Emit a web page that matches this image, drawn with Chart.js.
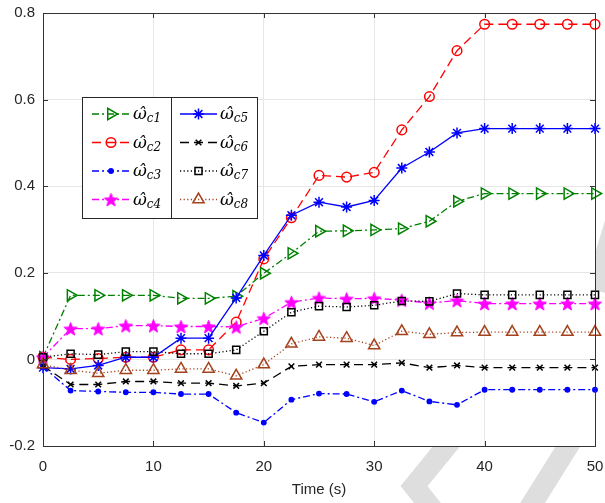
<!DOCTYPE html>
<html>
<head>
<meta charset="utf-8">
<script src="https://cdn.jsdelivr.net/npm/chart.js@4/dist/chart.umd.min.js"></script>
<style>
  html, body { margin: 0; padding: 0; background: #fff; }
  #wrap { position: relative; width: 605px; height: 503px; }
</style>
</head>
<body>
<div id="wrap"><canvas id="grafico" width="605" height="503"></canvas></div>
<script>
const tempos = [0, 2.5, 5, 7.5, 10, 12.5, 15, 17.5, 20, 22.5, 25, 27.5, 30, 32.5, 35, 37.5, 40, 42.5, 45, 47.5, 50];

const wc1 = [0.005, 0.148, 0.148, 0.148, 0.148, 0.141, 0.141, 0.146, 0.199, 0.245, 0.296, 0.297, 0.299, 0.302, 0.319, 0.365, 0.383, 0.383, 0.383, 0.383, 0.383];
const wc2 = [0.005, 0.0, 0.002, 0.005, 0.005, 0.022, 0.022, 0.086, 0.232, 0.327, 0.425, 0.421, 0.432, 0.53, 0.607, 0.713, 0.774, 0.774, 0.774, 0.774, 0.774];
const wc3 = [-0.017, -0.072, -0.074, -0.076, -0.076, -0.08, -0.08, -0.123, -0.146, -0.093, -0.079, -0.08, -0.098, -0.072, -0.097, -0.105, -0.07, -0.07, -0.07, -0.07, -0.07];
const wc4 = [0.005, 0.071, 0.071, 0.078, 0.078, 0.076, 0.076, 0.075, 0.095, 0.132, 0.142, 0.14, 0.141, 0.137, 0.13, 0.136, 0.129, 0.129, 0.129, 0.129, 0.129];
const wc5 = [-0.019, -0.022, -0.014, 0.005, 0.005, 0.049, 0.049, 0.142, 0.24, 0.333, 0.363, 0.352, 0.367, 0.442, 0.479, 0.523, 0.533, 0.533, 0.533, 0.533, 0.533];
const wc6 = [-0.015, -0.058, -0.058, -0.051, -0.051, -0.055, -0.055, -0.061, -0.055, -0.016, -0.012, -0.012, -0.012, -0.008, -0.019, -0.014, -0.019, -0.019, -0.019, -0.019, -0.019];
const wc7 = [0.005, 0.013, 0.011, 0.018, 0.018, 0.013, 0.013, 0.022, 0.065, 0.109, 0.123, 0.121, 0.125, 0.135, 0.134, 0.152, 0.149, 0.149, 0.149, 0.149, 0.149];
const wc8 = [-0.012, -0.025, -0.032, -0.025, -0.025, -0.022, -0.022, -0.038, -0.012, 0.036, 0.052, 0.049, 0.032, 0.065, 0.058, 0.062, 0.063, 0.063, 0.063, 0.063, 0.063];

const legendas = ["c1", "c2", "c3", "c4", "c5", "c6", "c7", "c8"];
const xTicks = [0, 10, 20, 30, 40, 50];
const yTicks = [-0.2, 0, 0.2, 0.4, 0.6, 0.8];

// pentagrama preenchido (marcador da serie c4)
function criarEstrela(r, cor) {
  const c = document.createElement("canvas");
  c.width = c.height = 2 * r + 3;
  const g = c.getContext("2d");
  const cx = c.width / 2, cy = c.height / 2 + 0.8;
  g.beginPath();
  for (let i = 0; i < 10; i++) {
    const rr = i % 2 === 0 ? r : r * 0.42;
    const a = -Math.PI / 2 + i * Math.PI / 5;
    const px = cx + rr * Math.cos(a), py = cy + rr * Math.sin(a);
    i === 0 ? g.moveTo(px, py) : g.lineTo(px, py);
  }
  g.closePath();
  g.fillStyle = cor;
  g.fill();
  g.strokeStyle = cor;
  g.lineWidth = 1;
  g.stroke();
  return c;
}
const estrela = criarEstrela(7, "#ff00ff");

const pontos = (vals) => tempos.map((t, i) => ({ x: t, y: vals[i] }));

const estilos = [
  { cor: "#008000", dash: [7, 3, 2, 3], ponto: "triangle", rot: 90, raio: 6.5, fundo: "rgba(0,0,0,0)" },
  { cor: "#ff0000", dash: [9, 5], ponto: "circle", rot: 0, raio: 4.8, fundo: "rgba(0,0,0,0)" },
  { cor: "#0000ff", dash: [7, 3, 2, 3], ponto: "circle", rot: 0, raio: 2.2, fundo: "#0000ff" },
  { cor: "#ff00ff", dash: [7, 3, 2, 3], ponto: estrela, rot: 0, raio: 6, fundo: "#ff00ff" },
  { cor: "#0000ff", dash: [], ponto: "star", rot: 0, raio: 5.5, fundo: "rgba(0,0,0,0)" },
  { cor: "#000000", dash: [9, 5], ponto: "crossRot", rot: 0, raio: 4, fundo: "rgba(0,0,0,0)" },
  { cor: "#000000", dash: [1.2, 2.4], ponto: "rect", rot: 0, raio: 5, fundo: "rgba(0,0,0,0)" },
  { cor: "#a5421e", dash: [1.2, 2.4], ponto: "triangle", rot: 0, raio: 6.5, fundo: "rgba(0,0,0,0)" },
];

const series = [wc1, wc2, wc3, wc4, wc5, wc6, wc7, wc8];

const datasets = series.map((vals, i) => ({
  label: legendas[i],
  data: pontos(vals),
  borderColor: estilos[i].cor,
  borderDash: estilos[i].dash,
  borderWidth: 1.3,
  pointStyle: estilos[i].ponto,
  pointRotation: estilos[i].rot,
  pointRadius: estilos[i].raio,
  pointBorderWidth: 1.5,
  pointBorderColor: estilos[i].cor,
  pointBackgroundColor: estilos[i].fundo,
  fill: false,
  tension: 0,
  clip: false,
  order: 7 - i,
}));

// marca d'agua cinza no canto inferior direito
const fundoPlugin = {
  id: "fundo",
  beforeDraw(chart) {
    const ctx = chart.ctx;
    ctx.save();
    ctx.strokeStyle = "#dedede";
    ctx.lineWidth = 21;
    ctx.lineCap = "butt";
    ctx.lineJoin = "miter";
    ctx.beginPath();
    ctx.moveTo(468, 420); ctx.lineTo(414, 486); ctx.lineTo(441, 520);
    ctx.stroke();
    ctx.beginPath();
    ctx.moveTo(572, 440); ctx.lineTo(525, 515);
    ctx.stroke();
    ctx.beginPath();
    ctx.moveTo(625, 190); ctx.lineTo(595, 290);
    ctx.stroke();
    const a = chart.chartArea;
    ctx.fillStyle = "#ffffff";
    ctx.fillRect(a.left, a.top, a.right - a.left, a.bottom - a.top);
    ctx.restore();
  },
};

function desenharRotulo(ctx, x, cy, sub) {
  ctx.fillStyle = "#000";
  ctx.textAlign = "left";
  ctx.textBaseline = "alphabetic";
  ctx.font = 'italic 17px "DejaVu Serif"';
  ctx.fillText("ω\u0302", x, cy + 5);
  const w = ctx.measureText("ω").width;
  ctx.font = 'italic 12px "DejaVu Serif"';
  ctx.fillText(sub, x + w, cy + 8);
}

const legendaPlugin = {
  id: "legendaCaixa",
  afterDraw(chart) {
    const ctx = chart.ctx;
    const bx = 82, by = 97, bw = 175, bh = 121, meio = 171;
    ctx.save();
    ctx.fillStyle = "#fff";
    ctx.fillRect(bx, by, bw, bh);
    ctx.strokeStyle = "#262626";
    ctx.lineWidth = 1;
    ctx.strokeRect(bx + 0.5, by + 0.5, bw, bh);
    ctx.beginPath();
    ctx.moveTo(meio + 0.5, by); ctx.lineTo(meio + 0.5, by + bh);
    ctx.stroke();

    const linhas = [114, 142.5, 171, 199.5];
    chart.data.datasets.forEach((ds, i) => {
      const col = i < 4 ? 0 : 1;
      const cy = linhas[i % 4];
      const x0 = col === 0 ? 92 : 180;
      const x1 = col === 0 ? 130 : 217;
      const xm = (x0 + x1) / 2;
      ctx.save();
      ctx.strokeStyle = ds.borderColor;
      ctx.lineWidth = ds.borderWidth;
      ctx.setLineDash(ds.borderDash);
      ctx.beginPath();
      ctx.moveTo(x0, cy); ctx.lineTo(x1, cy);
      ctx.stroke();
      ctx.setLineDash([]);
      ctx.strokeStyle = ds.pointBorderColor;
      ctx.fillStyle = ds.pointBackgroundColor;
      ctx.lineWidth = ds.pointBorderWidth;
      Chart.helpers.drawPoint(ctx, {
        pointStyle: ds.pointStyle,
        rotation: ds.pointRotation,
        radius: ds.pointRadius,
        borderWidth: ds.pointBorderWidth,
      }, xm, cy);
      ctx.restore();
      desenharRotulo(ctx, col === 0 ? 133 : 220, cy, ds.label);
    });
    ctx.restore();
  },
};

// caixa dos eixos com marcas para dentro (estilo MATLAB)
const caixaPlugin = {
  id: "caixa",
  afterDatasetsDraw(chart) {
    const { ctx, chartArea: a, scales } = chart;
    ctx.save();
    ctx.strokeStyle = "#333333";
    ctx.lineWidth = 1;
    ctx.beginPath();
    xTicks.forEach((v) => {
      const px = Math.round(scales.x.getPixelForValue(v)) + 0.5;
      ctx.moveTo(px, a.bottom); ctx.lineTo(px, a.bottom - 5);
      ctx.moveTo(px, a.top); ctx.lineTo(px, a.top + 5);
    });
    yTicks.forEach((v) => {
      const py = Math.round(scales.y.getPixelForValue(v)) + 0.5;
      ctx.moveTo(a.left, py); ctx.lineTo(a.left + 5, py);
      ctx.moveTo(a.right, py); ctx.lineTo(a.right - 5, py);
    });
    ctx.stroke();
    ctx.strokeRect(Math.round(a.left) + 0.5, Math.round(a.top) + 0.5,
      Math.round(a.right - a.left), Math.round(a.bottom - a.top));
    ctx.restore();
  },
};

function semPadding(s) {
  s.paddingLeft = 0;
  s.paddingRight = 0;
  s.paddingTop = 0;
  s.paddingBottom = 0;
}

new Chart(document.getElementById("grafico"), {
  type: "line",
  data: { datasets },
  plugins: [fundoPlugin, caixaPlugin, legendaPlugin],
  options: {
    responsive: false,
    animation: false,
    devicePixelRatio: 1,
    layout: { padding: { left: 0, top: 13, right: 10, bottom: 0 } },
    plugins: { legend: { display: false }, tooltip: { enabled: false } },
    scales: {
      x: {
        type: "linear",
        min: 0,
        max: 50,
        afterFit: (s) => { s.height = 57; semPadding(s); },
        afterBuildTicks: (s) => { s.ticks = xTicks.map((v) => ({ value: v })); },
        ticks: { color: "#262626", font: { family: "Liberation Sans", size: 15 }, padding: 12, maxRotation: 0 },
        grid: { color: "#e6e6e6", drawTicks: false },
        border: { display: false },
        title: {
          display: true,
          text: "Time (s)",
          color: "#262626",
          font: { family: "Liberation Sans", size: 15 },
          padding: { top: 0, bottom: 4 },
        },
      },
      y: {
        type: "linear",
        min: -0.2,
        max: 0.8,
        afterFit: (s) => { s.width = 43; semPadding(s); },
        afterBuildTicks: (s) => { s.ticks = yTicks.map((v) => ({ value: v })); },
        ticks: {
          color: "#262626",
          font: { family: "Liberation Sans", size: 15 },
          padding: 8,
          callback: (v) => String(Math.round(v * 10) / 10),
        },
        grid: { color: "#e6e6e6", drawTicks: false },
        border: { display: false },
      },
    },
  },
});
</script>
</body>
</html>
